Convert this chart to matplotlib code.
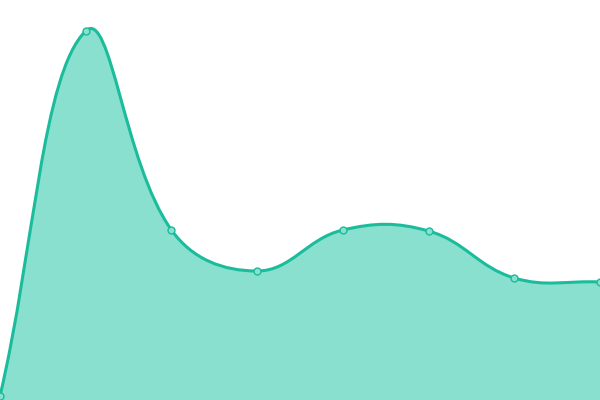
import matplotlib
matplotlib.use("Agg")
import matplotlib.pyplot as plt
from matplotlib.path import Path
from matplotlib.patches import PathPatch
import numpy as np

# data (value scale: 0 at bottom, 400 at top)
labels = ["1", "2", "3", "4", "5", "6", "7", "8"]
values = [4, 369, 170, 129, 170, 169, 122, 118]

LINE = "#1abc9c"
FILL = "#8ae0cf"
tension = 0.4

fig = plt.figure(figsize=(6, 4), dpi=100)
ax = fig.add_axes([0, 0, 1, 1])
ax.set_xlim(0, len(values) - 1)
ax.set_ylim(0, 400)
ax.axis("off")

x = np.arange(len(values))
pts = ax.transData.transform(np.column_stack([x, values]))

# chart.js style spline control points (computed in pixel space)
n = len(pts)
verts = [pts[0]]
codes = [Path.MOVETO]
cp_prev = [None] * n
cp_next = [None] * n
for i in range(n):
    prev = pts[i - 1] if i > 0 else pts[i]
    cur = pts[i]
    nxt = pts[i + 1] if i < n - 1 else pts[i]
    d01 = np.hypot(*(cur - prev))
    d12 = np.hypot(*(nxt - cur))
    tot = d01 + d12
    s01 = d01 / tot if tot else 0
    s12 = d12 / tot if tot else 0
    cp_prev[i] = cur - tension * s01 * (nxt - prev)
    cp_next[i] = cur + tension * s12 * (nxt - prev)
for i in range(1, n):
    verts += [cp_next[i - 1], cp_prev[i], pts[i]]
    codes += [Path.CURVE4] * 3

inv = ax.transData.inverted()
dverts = inv.transform(np.array(verts))
line_path = Path(dverts, codes)

fill_verts = list(dverts) + [[x[-1], 0], [x[0], 0], dverts[0]]
fill_codes = codes + [Path.LINETO, Path.LINETO, Path.CLOSEPOLY]
ax.add_patch(PathPatch(Path(fill_verts, fill_codes), facecolor=FILL, edgecolor="none"))
ax.add_patch(PathPatch(line_path, facecolor="none", edgecolor=LINE, linewidth=2.2, capstyle="round"))

ax.plot(x, values, linestyle="none", marker="o", markersize=5,
        markerfacecolor=FILL, markeredgecolor=LINE, markeredgewidth=1, clip_on=False)

fig.savefig("out.png", dpi=100)
